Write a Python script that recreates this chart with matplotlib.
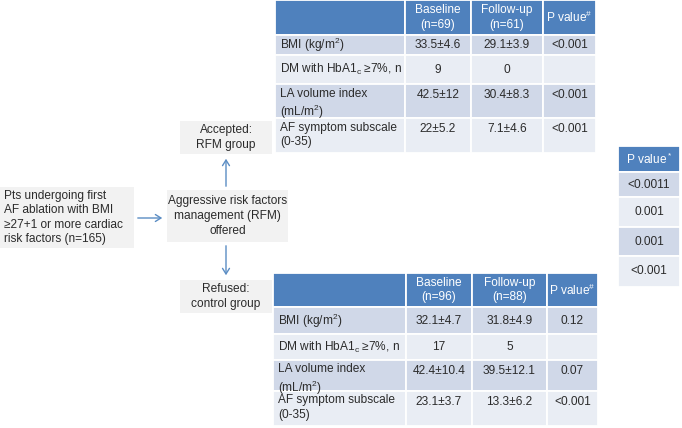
import matplotlib
matplotlib.use("Agg")
import matplotlib.pyplot as plt
from matplotlib.patches import Rectangle, FancyArrowPatch

plt.rcParams["font.family"] = ["Liberation Sans", "DejaVu Sans"]
plt.rcParams["mathtext.fontset"] = "custom"
plt.rcParams["mathtext.rm"] = "Liberation Sans"
plt.rcParams["mathtext.it"] = "Liberation Sans:italic"

HEADER = "#4F81BD"
BAND1 = "#D0D8E8"
BAND2 = "#E9EDF4"
BOX = "#F2F2F2"
TEXT = "#2B2B2B"
ARROW = "#5B8DC4"

# --- data ---
row_labels = ["BMI (kg/m$^2$)", "DM with HbA1$_\\mathrm{c}$ \u22657%, n",
              "LA volume index\n(mL/m$^2$)", "AF symptom subscale\n(0-35)"]
rfm_header = ["", "Baseline\n(n=69)", "Follow-up\n(n=61)", "P value$^\\#$"]
rfm_baseline = ["33.5\u00b14.6", "9", "42.5\u00b112", "22\u00b15.2"]
rfm_followup = ["29.1\u00b13.9", "0", "30.4\u00b18.3", "7.1\u00b14.6"]
rfm_p = ["<0.001", "", "<0.001", "<0.001"]

ctl_header = ["", "Baseline\n(n=96)", "Follow-up\n(n=88)", "P value$^\\#$"]
ctl_baseline = ["32.1\u00b14.7", "17", "42.4\u00b110.4", "23.1\u00b13.7"]
ctl_followup = ["31.8\u00b14.9", "5", "39.5\u00b112.1", "13.3\u00b16.2"]
ctl_p = ["0.12", "", "0.07", "<0.001"]

between_header = "P value$^*$"
between_p = ["<0.0011", "0.001", "0.001", "<0.001"]

FS = 8.6
LS = 1.28


def band(r):
    return HEADER if r == 0 else (BAND1 if r % 2 == 1 else BAND2)


def draw_table(ax, col_edges, row_edges, header, cols):
    # col_edges / row_edges in pixel coordinates
    for r in range(len(row_edges) - 1):
        top, bot = row_edges[r], row_edges[r + 1]
        for c in range(len(col_edges) - 1):
            left, right = col_edges[c], col_edges[c + 1]
            ax.add_patch(Rectangle((left, top), right - left, bot - top,
                                   facecolor=band(r), edgecolor="white", linewidth=1.3))
            if r == 0:
                if header[c]:
                    ax.text((left + right) / 2, (top + bot) / 2, header[c], ha="center",
                            va="center", color="white", fontsize=FS, linespacing=LS)
                continue
            txt = cols[c][r - 1]
            if not txt:
                continue
            two_line = "\n" in row_labels[r - 1]
            if c == 0:
                if two_line:
                    ax.text(left + 5, top + 3.5, txt, ha="left", va="top", color=TEXT,
                            fontsize=FS, linespacing=LS)
                else:
                    ax.text(left + 5, (top + bot) / 2, txt, ha="left", va="center",
                            color=TEXT, fontsize=FS)
            else:
                y = top + 11 if two_line else (top + bot) / 2
                ax.text((left + right) / 2, y, txt, ha="center", va="center",
                        color=TEXT, fontsize=FS)


def box(ax, x, y, w, h, txt, ha="center"):
    ax.add_patch(Rectangle((x, y), w, h, facecolor=BOX, edgecolor="none"))
    tx = x + w / 2 if ha == "center" else x + 4
    ax.text(tx, y + h / 2, txt, ha=ha, va="center", color=TEXT, fontsize=FS, linespacing=LS)


def arrow(ax, p0, p1):
    ax.add_patch(FancyArrowPatch(p0, p1, arrowstyle="->,head_length=4,head_width=2.5",
                                 color=ARROW, linewidth=1.0, mutation_scale=1))


fig = plt.figure(figsize=(6.82, 4.28), dpi=100)
ax = fig.add_axes([0, 0, 1, 1])
ax.set_xlim(0, 682)
ax.set_ylim(428, 0)
ax.axis("off")

# within-group tables
draw_table(ax, [275, 405, 471, 543, 596], [0, 35, 55, 84, 118, 153],
           rfm_header, [row_labels, rfm_baseline, rfm_followup, rfm_p])
draw_table(ax, [273, 406, 472, 547, 598], [273, 307, 334, 360, 391, 426],
           ctl_header, [row_labels, ctl_baseline, ctl_followup, ctl_p])

# between-group p values
right_rows = [146, 172, 197, 227, 256, 287]
for r in range(len(right_rows) - 1):
    top, bot = right_rows[r], right_rows[r + 1]
    ax.add_patch(Rectangle((618, top), 62, bot - top, facecolor=band(r),
                           edgecolor="white", linewidth=1.3))
    txt = between_header if r == 0 else between_p[r - 1]
    ax.text(649, (top + bot) / 2, txt, ha="center", va="center",
            color="white" if r == 0 else TEXT, fontsize=FS)

# flowchart boxes
box(ax, 0, 187, 134, 61,
    "Pts undergoing first\nAF ablation with BMI\n\u226527+1 or more cardiac\nrisk factors (n=165)", ha="left")
box(ax, 167, 190, 121, 52, "Aggressive risk factors\nmanagement (RFM)\noffered")
box(ax, 180, 121, 92, 33, "Accepted:\nRFM group")
box(ax, 180, 280, 92, 33, "Refused:\ncontrol group")

arrow(ax, (135, 218), (165, 218))
arrow(ax, (226, 189), (226, 156))
arrow(ax, (226, 243), (226, 278))

fig.savefig("out.png", dpi=100)
